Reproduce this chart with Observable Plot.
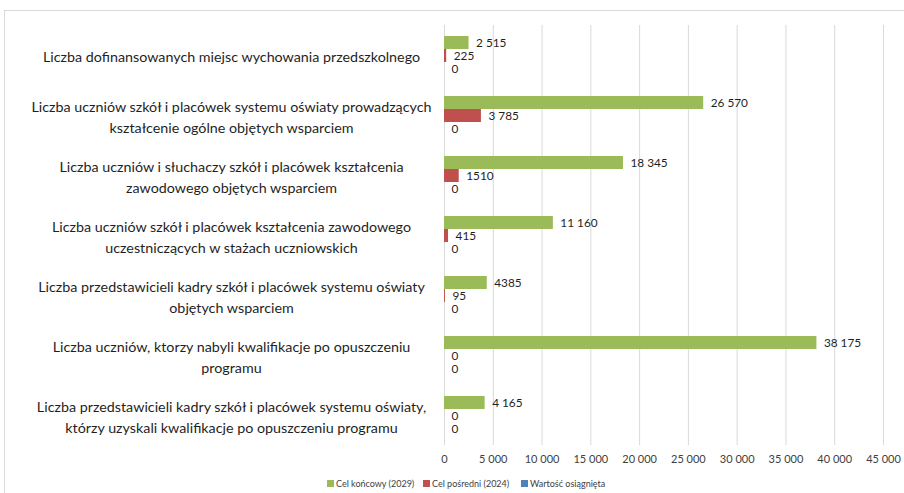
<!DOCTYPE html>
<html>
<head>
<meta charset="utf-8">
<script src="https://cdn.jsdelivr.net/npm/d3@7"></script>
<script src="https://cdn.jsdelivr.net/npm/@observablehq/plot@0.6"></script>
<style>
  html, body { margin: 0; padding: 0; background: #fff; }
  body { width: 904px; height: 493px; position: relative; overflow: hidden; font-family: Lato, "Open Sans", sans-serif; }
  #frame { position: absolute; left: 4px; top: 10px; width: 1000px; height: 1000px; border-top: 1px solid #d9d9d9; border-left: 1px solid #d9d9d9; }
  #chart { position: absolute; left: 0; top: 0; }
  #legend { position: absolute; top: 478px; left: 0; width: 904px; font-size: 9px; color: #404040; }
  .item { position: absolute; display: flex; align-items: center; white-space: nowrap; }
  .sw { width: 7px; height: 7px; margin-right: 2px; }
</style>
</head>
<body>
<div id="frame"></div>
<div id="chart"></div>
<div id="legend"></div>
<script>
const categories = [
  "Liczba dofinansowanych miejsc wychowania przedszkolnego",
  "Liczba uczniów szkół i placówek systemu oświaty prowadzących\nkształcenie ogólne objętych wsparciem",
  "Liczba uczniów i słuchaczy szkół i placówek kształcenia\nzawodowego objętych wsparciem",
  "Liczba uczniów szkół i placówek kształcenia zawodowego\nuczestniczących w stażach uczniowskich",
  "Liczba przedstawicieli kadry szkół i placówek systemu oświaty\nobjętych wsparciem",
  "Liczba uczniów, ktorzy nabyli kwalifikacje po opuszczeniu\nprogramu",
  "Liczba przedstawicieli kadry szkół i placówek systemu oświaty,\nktórzy uzyskali kwalifikacje po opuszczeniu programu"
];
const seriesNames = ["Cel końcowy (2029)", "Cel pośredni (2024)", "Wartość osiągnięta"];
const seriesColors = ["#9bbb59", "#c0504d", "#4f81bd"];
const celKoncowy = [2515, 26570, 18345, 11160, 4385, 38175, 4165];
const celKoncowyLabels = ["2 515", "26 570", "18 345", "11 160", "4385", "38 175", "4 165"];
const celPosredni = [225, 3785, 1510, 415, 95, 0, 0];
const celPosredniLabels = ["225", "3 785", "1510", "415", "95", "0", "0"];
const wartosc = [0, 0, 0, 0, 0, 0, 0];
const wartoscLabels = ["0", "0", "0", "0", "0", "0", "0"];
const xTicks = [0, 5000, 10000, 15000, 20000, 25000, 30000, 35000, 40000, 45000];

const seriesValues = [celKoncowy, celPosredni, wartosc];
const seriesLabels = [celKoncowyLabels, celPosredniLabels, wartoscLabels];
const data = [];
categories.forEach((c, i) => {
  seriesNames.forEach((s, j) => {
    data.push({cat: c, series: s, value: seriesValues[j][i], label: seriesLabels[j][i]});
  });
});

const fmt = d => d3.format(",")(d).replace(/,/g, " ");

const chart = Plot.plot({
  width: 904,
  height: 470,
  marginLeft: 444,
  marginRight: 21,
  marginTop: 25,
  marginBottom: 25,
  style: {fontFamily: "Lato, 'Open Sans', sans-serif", background: "transparent"},
  x: {domain: [0, 45000], ticks: xTicks},
  y: {domain: seriesNames, paddingInner: 0, paddingOuter: 0.8, axis: null},
  fy: {domain: categories, padding: 0, label: null},
  color: {domain: seriesNames, range: seriesColors},
  marks: [
    Plot.gridX(xTicks, {stroke: "#d9d9d9", strokeOpacity: 1}),
    Plot.axisX(xTicks, {tickSize: 0, tickPadding: 10, tickFormat: fmt, fontSize: 11, fill: "#404040", label: null}),
    Plot.axisFy({anchor: "left", tickSize: 0, tickPadding: 0, textAnchor: "middle", dx: -213, fontSize: 14.3, lineHeight: 1.5, fill: "#1f1f1f", label: null}),
    Plot.barX(data, {x: "value", y: "series", fy: "cat", fill: "series"}),
    Plot.text(data, {x: "value", y: "series", fy: "cat", text: "label", textAnchor: "start", dx: 7, fontSize: 11.8, fill: "#1f1f1f"})
  ]
});
document.getElementById("chart").appendChild(chart);

const legendPos = [327, 423, 521];
const legend = document.getElementById("legend");
seriesNames.forEach((s, j) => {
  const item = document.createElement("div");
  item.className = "item";
  item.style.left = legendPos[j] + "px";
  item.innerHTML = `<span class="sw" style="background:${seriesColors[j]}"></span><span>${s}</span>`;
  legend.appendChild(item);
});
</script>
</body>
</html>
